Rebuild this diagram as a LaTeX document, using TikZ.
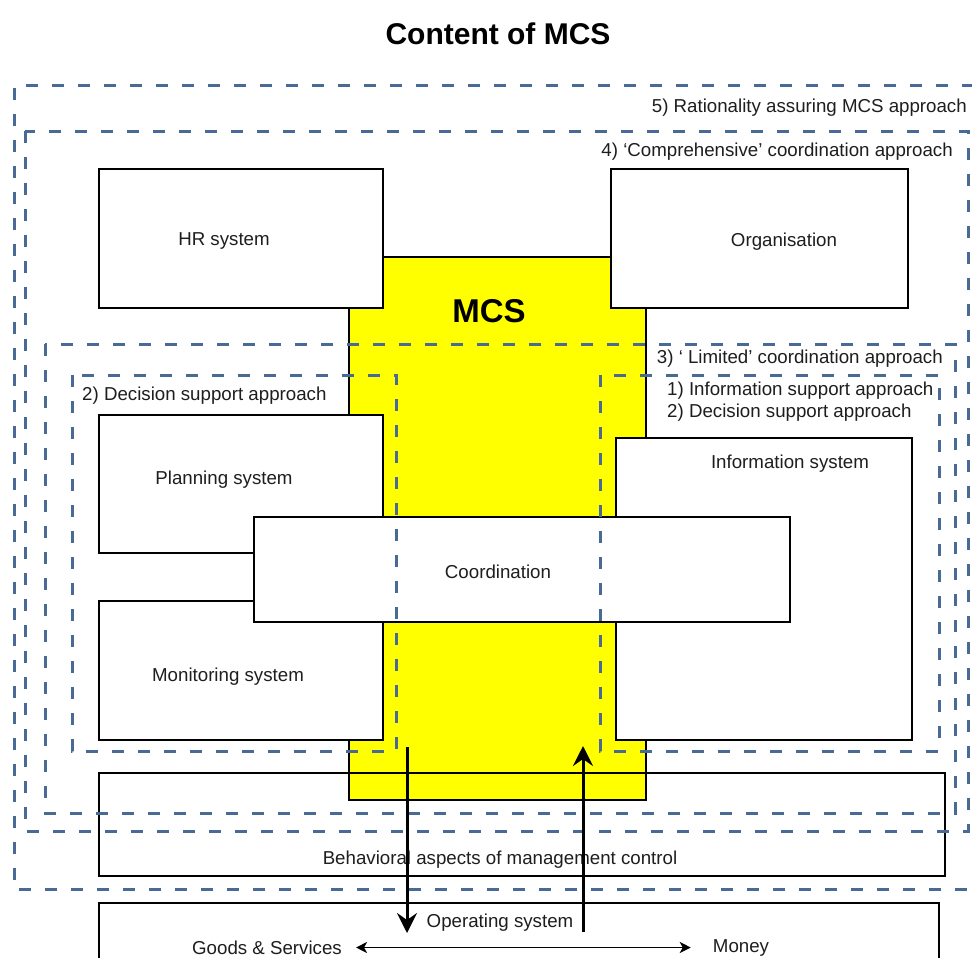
\documentclass[tikz,border=0pt]{standalone}
\usepackage{fontspec}
\setmainfont{Liberation Sans}
\usetikzlibrary{arrows.meta,fit}
\definecolor{dashblue}{RGB}{74,106,150}
\definecolor{mcsyellow}{RGB}{255,255,0}
\definecolor{txt}{RGB}{30,30,30}
\begin{document}
\begin{tikzpicture}[x=1pt,y=-1pt,
  box/.style={draw=black, line width=2pt, fill=white, inner sep=0pt},
  openbox/.style={draw=black, line width=2pt, inner sep=0pt},
  zone/.style={draw=dashblue, line width=3pt, dash pattern=on 12pt off 14pt},
  lbl/.style={font=\fontsize{18.7}{22}\selectfont, text=txt, inner sep=0pt, yshift=-1.5pt},
  arr/.style={line width=3pt, -{Stealth[length=20pt,width=20pt,inset=7pt]}},
  dbl/.style={line width=1.6pt, {Stealth[length=11pt,width=11pt,inset=3pt]}-{Stealth[length=11pt,width=11pt,inset=3pt]}},
]
\useasboundingbox (0,0) rectangle (972,958);
\clip (0,0) rectangle (972,958);
\fill[white] (0,0) rectangle (972,958);

% title
\node[font=\bfseries\fontsize{30}{34}\selectfont, inner sep=0pt] (title) at (498,34) {Content of MCS};

% MCS core
\node[draw=black, line width=2.5pt, fill=mcsyellow, inner sep=0pt, fit={(349,257) (646,800)}] (mcs) {};
\node[font=\bfseries\fontsize{33}{37}\selectfont, inner sep=0pt] (mcslbl) at (489,311) {MCS};

% solid boxes
\node[box, fit={(99,169) (383,308)}] (hr) {};
\node[box, fit={(611,169) (908,308)}] (org) {};
\node[box, fit={(99,415) (383,553)}] (plan) {};
\node[box, fit={(99,601) (383,740)}] (mon) {};
\node[box, fit={(616,438) (912,740)}] (info) {};
\node[box, fit={(254,517) (790,622)}] (coord) {};
\node[openbox, fit={(99,773) (945,876)}] (behav) {};
\node[box, fit={(99,903) (939,980)}] (oper) {};

% dashed approach zones
\draw[zone] (1000,86) -- (14,86) -- (14,889) -- (1000,889);
\draw[zone] (25,131) rectangle (968,831);
\draw[zone] (45,344) rectangle (955,813);
\draw[zone] (72,375) rectangle (396,751);
\draw[zone] (600,375) rectangle (939,751);

% zone labels
\node[lbl, anchor=east] (z5) at (967,106) {5) Rationality assuring MCS approach};
\node[lbl, anchor=east] (z4) at (953,150) {4) `Comprehensive' coordination approach};
\node[lbl, anchor=east] (z3) at (943,357) {3) ` Limited' coordination approach};
\node[lbl, anchor=west] (z2l) at (82,394) {2) Decision support approach};
\node[lbl, anchor=west] (z1r) at (667,389) {1) Information support approach};
\node[lbl, anchor=west] (z2r) at (667,411) {2) Decision support approach};

% box labels
\node[lbl] (hrt) at (224,240) {HR system};
\node[lbl] (orgt) at (784,240) {Organisation};
\node[lbl] (plant) at (224,478) {Planning system};
\node[lbl] (mont) at (228,675) {Monitoring system};
\node[lbl] (infot) at (790,462) {Information system};
\node[lbl] (coordt) at (498,570) {Coordination};
\node[lbl] (behavt) at (500,858) {Behavioral aspects of management control};
\node[lbl] (opert) at (500,921) {Operating system};
\node[lbl] (goods) at (267,946) {Goods \& Services};
\node[lbl] (money) at (741,946) {Money};

% flows
\coordinate (dtop) at (407,747);
\coordinate (dbot) at (407,933);
\coordinate (ubot) at (583,932);
\coordinate (utop) at (583,746);
\draw[arr] (dtop) -- (dbot);
\draw[arr] (ubot) -- (utop);
\draw[dbl, shorten <=14pt, shorten >=22pt] (goods.east) -- (money.west);
\end{tikzpicture}
\end{document}
